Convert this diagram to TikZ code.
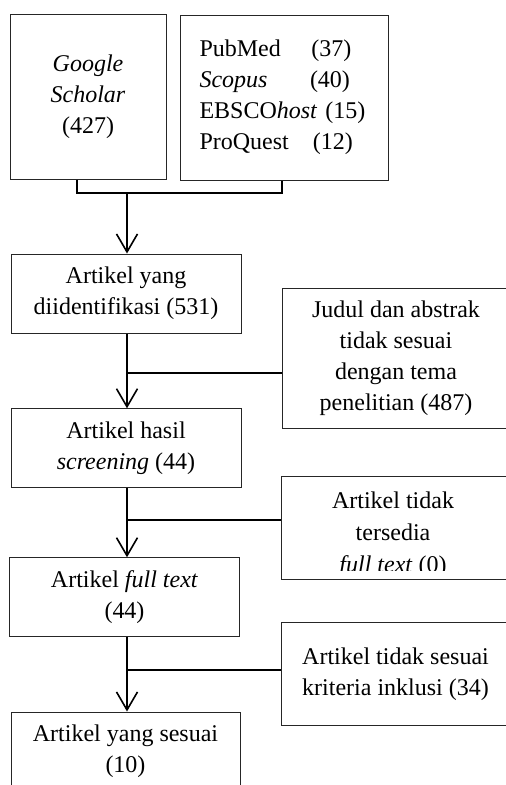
\documentclass[tikz,border=0pt]{standalone}
\usepackage{fontspec}
\setmainfont{Liberation Serif}
\usetikzlibrary{arrows.meta}
\begin{document}
\begin{tikzpicture}[x=1pt,y=-1pt,
  box/.style={draw=black!85,line width=1pt,rectangle,inner sep=0pt,align=center,
    font=\fontsize{24}{31}\selectfont},
  conn/.style={draw=black,line width=1.8pt},
  arr/.style={conn,-{Straight Barb[length=18pt,width=21pt,line width=1.6pt]}}]
\clip (0,0) rectangle (506,785);
\fill[white] (0,0) rectangle (506,785);
% top sources
\node[box,minimum width=156pt,minimum height=165pt] (google) at (88,96.5)
  {\textit{Google}\\\textit{Scholar}\\(427)};
\node[box,minimum width=208pt,minimum height=165pt,text width=169pt,align=left] (dbs) at (284,97.5)
  {\makebox[112pt][l]{PubMed}(37)\\
   \makebox[110.5pt][l]{\textit{Scopus}}(40)\\
   EBSCO\textit{host} (15)\\
   \makebox[113.5pt][l]{ProQuest}(12)};
% main column
\node[box,minimum width=230pt,minimum height=79pt] (b1) at (126,293.5)
  {Artikel yang\\diidentifikasi (531)};
\node[box,minimum width=230pt,minimum height=79pt] (b2) at (126,448.3)
  {Artikel hasil\\\textit{screening} (44)};
\node[box,minimum width=229.5pt,minimum height=78.5pt] (b3) at (124.5,597)
  {Artikel \textit{full text}\\(44)};
\node[box,minimum width=229pt,minimum height=79pt] (b4) at (125.5,751.5)
  {Artikel yang sesuai\\(10)};
% exclusion boxes
\node[box,minimum width=228pt,minimum height=140pt] (r1) at (396,358)
  {Judul dan abstrak\\tidak sesuai\\dengan tema\\penelitian (487)};
\node[box,minimum width=229pt,minimum height=103.3pt] (r2) at (395.5,528.3) {};
\begin{scope}
  \clip (282,477) rectangle (506,570);
  \node[align=center,inner sep=0pt,font=\fontsize{24}{32}\selectfont] (r2t) at (393,535)
    {Artikel tidak\\tersedia\\\textit{full text} (0)};
\end{scope}
\node[box,minimum width=229pt,minimum height=103pt] (r3) at (395.5,674.2)
  {Artikel tidak sesuai\\kriteria inklusi (34)};
% connectors
\coordinate (j) at (127,193);
\draw[conn] ([xshift=-11pt]google.south) |- (j) -| ([xshift=-2pt]dbs.south);
\draw[arr] (j) -- (j |- b1.north);
\draw[arr] (b1.south -| j) -- (b2.north -| j);
\coordinate (m1) at (127,372.7);
\draw[conn] (m1) -- (m1 -| r1.west);
\draw[arr] (b2.south -| j) -- (b3.north -| j);
\coordinate (m2) at (127,520);
\draw[conn] (m2) -- (m2 -| r2.west);
\draw[arr] (b3.south -| j) -- (b4.north -| j);
\coordinate (m3) at (127,670);
\draw[conn] (m3) -- (m3 -| r3.west);
\end{tikzpicture}
\end{document}
